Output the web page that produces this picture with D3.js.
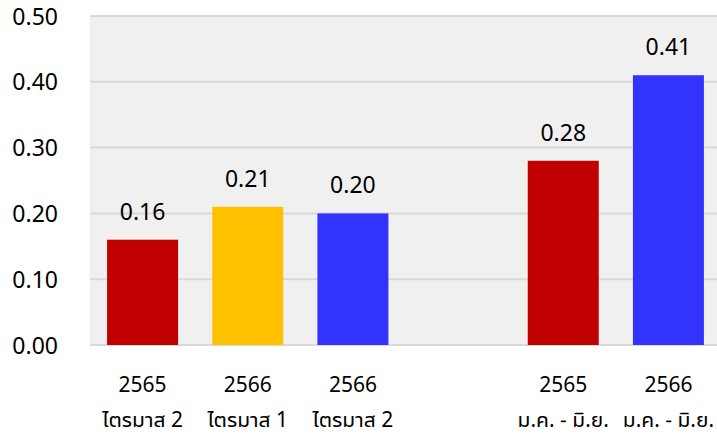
<!DOCTYPE html>
<html>
<head>
<meta charset="utf-8">
<script src="https://cdn.jsdelivr.net/npm/d3@7"></script>
<style>
body{margin:0;background:#fff;}
text{font-family:"Tahoma","Leelawadee UI","Noto Sans Thai UI","Noto Sans Thai","Noto Sans",sans-serif;fill:#000;}
</style>
</head>
<body>
<script>
var years = ['2565','2566','2566','','2565','2566']
var periods = ['ไตรมาส 2','ไตรมาส 1','ไตรมาส 2','','ม.ค. - มิ.ย.','ม.ค. - มิ.ย.']
var values = [0.16,0.21,0.20,null,0.28,0.41]
var colors = ['#C00000','#FFC000','#3333FF',null,'#C00000','#3333FF']
var yTicks = [0,0.1,0.2,0.3,0.4,0.5]

var params = {width:717, height:434, left:90, right:721, top:16, bottom:345}

var svg = d3.select('body').append('svg')
  .attr('width',params.width).attr('height',params.height)

var idx = d3.range(values.length)
var x = d3.scaleBand().domain(idx).range([params.left,params.right])
  .paddingInner(0.325).paddingOuter(0.1625)
var y = d3.scaleLinear().domain([0,0.5]).range([params.bottom,params.top])

// plot background
svg.append('rect')
  .attr('x',params.left).attr('y',params.top)
  .attr('width',params.right-params.left).attr('height',params.bottom-params.top)
  .style('fill','#F0F0F0')

// gridlines
svg.append('g').selectAll('line').data(yTicks).enter().append('line')
  .attr('x1',params.left).attr('x2',params.right)
  .attr('y1',function(d){return y(d)}).attr('y2',function(d){return y(d)})
  .style('stroke','#D9D9D9').style('stroke-width',2)

// y axis labels
var yAxis = d3.axisLeft(y).tickValues(yTicks).tickFormat(d3.format('.2f')).tickSize(0).tickPadding(0)
var ya = svg.append('g').attr('transform','translate(58,0)').call(yAxis)
ya.select('.domain').remove()
ya.selectAll('text').style('font-size','23px').attr('dy','0.35em')

var data = idx.filter(function(i){return values[i]!==null})

svg.append('g').selectAll('rect').data(data).enter().append('rect')
  .attr('x',function(i){return x(i)})
  .attr('y',function(i){return y(values[i])})
  .attr('width',x.bandwidth())
  .attr('height',function(i){return y(0)-y(values[i])})
  .style('fill',function(i){return colors[i]})

svg.append('g').selectAll('text').data(data).enter().append('text')
  .attr('x',function(i){return x(i)+x.bandwidth()/2})
  .attr('y',function(i){return y(values[i])-20})
  .attr('text-anchor','middle')
  .style('font-size','23px')
  .text(function(i){return values[i].toFixed(2)})

// category labels
var cat = svg.append('g').selectAll('g').data(data).enter().append('g')
  .attr('transform',function(i){return 'translate('+(x(i)+x.bandwidth()/2)+',0)'})
cat.append('text').attr('y',392).attr('text-anchor','middle').style('font-size','21px')
  .text(function(i){return years[i]})
cat.append('text').attr('y',427).attr('text-anchor','middle').style('font-size','21px')
  .text(function(i){return periods[i]})
</script>
</body>
</html>
